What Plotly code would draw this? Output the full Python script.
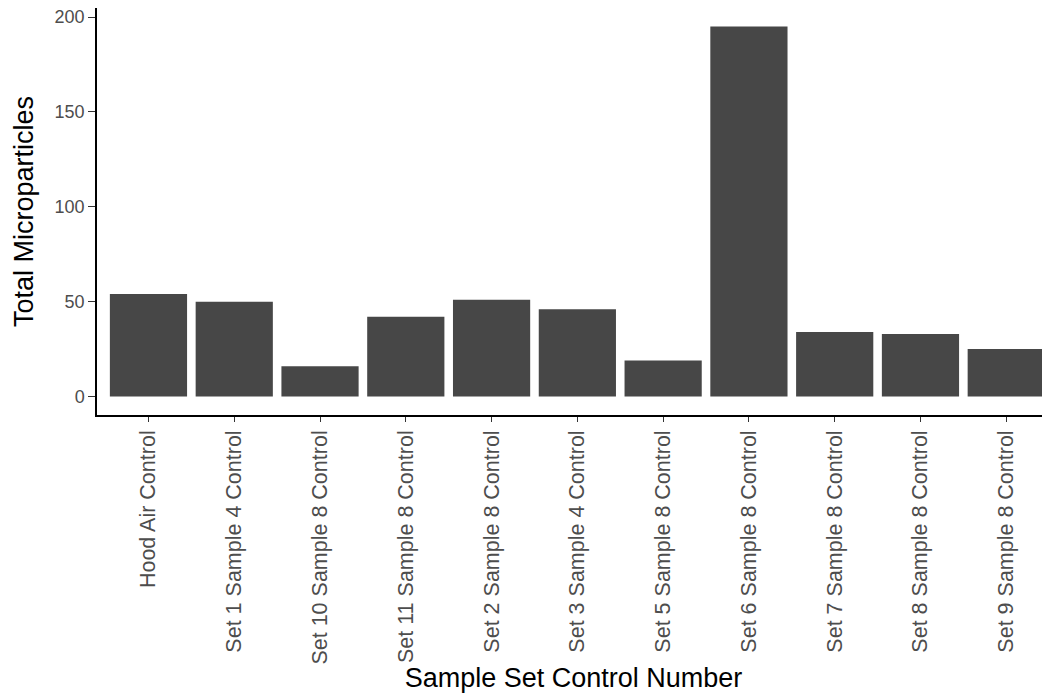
import plotly.graph_objects as go

categories = [
    "Hood Air Control",
    "Set 1 Sample 4 Control",
    "Set 10 Sample 8 Control",
    "Set 11 Sample 8 Control",
    "Set 2 Sample 8 Control",
    "Set 3 Sample 4 Control",
    "Set 5 Sample 8 Control",
    "Set 6 Sample 8 Control",
    "Set 7 Sample 8 Control",
    "Set 8 Sample 8 Control",
    "Set 9 Sample 8 Control",
]
totals = [54, 50, 16, 42, 51, 46, 19, 195, 34, 33, 25]
y_ticks = [0, 50, 100, 150, 200]

FONT = "Liberation Sans, Arial, sans-serif"

fig = go.Figure(
    go.Bar(
        x=list(range(len(categories))),
        y=totals,
        width=0.9,
        marker=dict(color="#474747", line=dict(width=0)),
    )
)

# page body has an 8px margin; compensate so the figure sits like the reference
fig.update_layout(
    width=1042,
    height=686,
    margin=dict(l=89, r=0, t=0, b=279),
    paper_bgcolor="white",
    plot_bgcolor="white",
    showlegend=False,
    font=dict(family=FONT),
)

fig.update_xaxes(
    range=[-0.6, 10.51],
    tickmode="array",
    tickvals=list(range(len(categories))),
    ticktext=categories,
    tickangle=-90,
    tickfont=dict(size=21.5, color="#4D4D4D", family=FONT),
    ticks="outside",
    ticklen=5,
    tickwidth=1.2,
    tickcolor="#333333",
    showline=True,
    linecolor="black",
    linewidth=1.5,
    showgrid=False,
    zeroline=False,
    ticklabeloverflow="allow",
    title=dict(text="Sample Set Control Number", font=dict(size=27, color="black", family=FONT), standoff=0),
    automargin=False,
)

fig.update_yaxes(
    range=[-9.75, 204.75],
    tickmode="array",
    tickvals=y_ticks,
    ticktext=[str(v) for v in y_ticks],
    tickfont=dict(size=18, color="#4D4D4D", family=FONT),
    ticks="outside",
    ticklen=7,
    tickwidth=1.2,
    tickcolor="#333333",
    showline=True,
    linecolor="black",
    linewidth=1.5,
    showgrid=False,
    zeroline=False,
    ticklabeloverflow="allow",
    title=dict(text="Total Microparticles", font=dict(size=27, color="black", family=FONT), standoff=13),
    automargin=False,
)

fig.write_html("out.html")
